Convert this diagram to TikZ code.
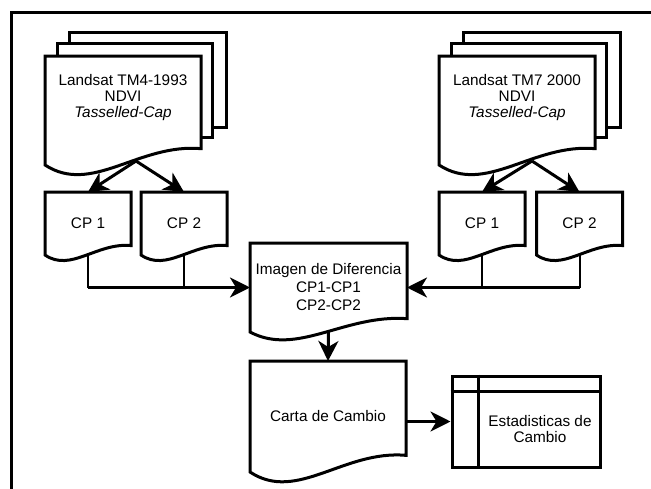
\documentclass[tikz,border=0pt]{standalone}
\usepackage{fontspec}
\setmainfont{Liberation Sans}
\usepackage{tikz}
\usetikzlibrary{arrows.meta, calc}

\tikzset{
    shapeline/.style={line width=2.25pt, line join=miter},
    link/.style={line width=1.5pt},
    arrow/.style={line width=2.25pt, -{Stealth[length=15pt, width=15pt, inset=4.5pt]}},
    doc/.style={inner sep=0pt, outer sep=0pt, align=center, font=\fontsize{11.5}{13.5}\selectfont},
    frame/.style={line width=2.25pt}
}

\newcommand{\docwave}[2][0]{%
    \draw[shapeline] let \p1=(#2.north west), \p2=($(#2.south east)+(0,#1)$),
        \n1={\x2-\x1}, \n2={\y1-\y2} in
        (\x1,\y2) -- (\x1,\y1) -- (\x2,\y1) -- (\x2,{\y1-0.85*\n2})
        .. controls ({\x1+0.6*\n1},{\y1-0.8*\n2}) and ({\x1+0.3*\n1},{\y1-1.28*\n2}) .. (\x1,\y2) -- cycle;}

\newcommand{\docstack}[1]{%
    \draw[shapeline] ($(#1.north west)+(12,0)$) -- ++(0,-13) -- ($(#1.north east)+(11,-13)$) -- ++(0,94) -- ++(-11,0);
    \draw[shapeline] ($(#1.north west)+(24,-13)$) -- ++(0,-11) -- ($(#1.north east)+(25,-24)$) -- ++(0,95) -- ++(-14,0);}

\begin{document}
\begin{tikzpicture}[x=0.75pt, y=-0.75pt]
    \useasboundingbox (0,0) rectangle (651,489);
    \draw[frame] (11,12) rectangle (700,540);

    \node[doc, minimum width=117pt, minimum height=63pt, font=\fontsize{11.5}{12}\selectfont] (tm4) at (123,98)
        {Landsat TM4-1993\\NDVI\\\textit{Tasselled-Cap}};
    \docwave[25]{tm4}
    \docstack{tm4}
    \node[doc, minimum width=117pt, minimum height=63pt, font=\fontsize{11.5}{12}\selectfont] (tm7) at (517,98)
        {Landsat TM7 2000\\NDVI\\\textit{Tasselled-Cap}};
    \docwave[25]{tm7}
    \docstack{tm7}

    \node[doc, minimum width=64.5pt, minimum height=47.25pt] (cp11) at (88,223.5) {CP 1};
    \docwave{cp11}
    \node[doc, minimum width=64.5pt, minimum height=47.25pt] (cp12) at (184,223.5) {CP 2};
    \docwave{cp12}
    \node[doc, minimum width=64.5pt, minimum height=47.25pt] (cp21) at (482,223.5) {CP 1};
    \docwave{cp21}
    \node[doc, minimum width=64.5pt, minimum height=47.25pt] (cp22) at (579.5,223.5) {CP 2};
    \docwave{cp22}

    \node[doc, minimum width=117.75pt, minimum height=66.75pt] (diff) at (328.5,287.5)
        {Imagen de Diferencia\\CP1-CP1\\CP2-CP2};
    \docwave{diff}
    \node[doc, minimum width=117pt, minimum height=83.25pt] (carta) at (328,416.5) {Carta de Cambio};
    \docwave{carta}

    \node[draw, shapeline, minimum width=111pt, minimum height=68.25pt] (est) at (526,421.5) {};
    \draw[shapeline] ($(est.north west)+(28,0)$) -- ($(est.south west)+(28,0)$);
    \draw[shapeline] ($(est.north west)+(0,17)$) -- ($(est.north east)+(0,17)$);
    \node[doc, font=\fontsize{11.5}{12}\selectfont] (est text) at (540,429.5) {Estadisticas de\\Cambio};

    \coordinate (tm4 foot) at ($(tm4.south)+(13,21)$);
    \coordinate (tm7 foot) at ($(tm7.south)+(15,21)$);
    \draw[arrow] (tm4 foot) -- (cp11.north);
    \draw[arrow] (tm4 foot) -- (cp12.north);
    \draw[arrow] (tm7 foot) -- (cp21.north);
    \draw[arrow] (tm7 foot) -- (cp22.north);

    \draw[link] (cp11.south) -- (cp11.south |- diff.west);
    \draw[link] (cp12.south) -- (cp12.south |- diff.west);
    \draw[arrow] (cp11.south |- diff.west) -- (diff.west);
    \draw[link] (cp21.south) -- (cp21.south |- diff.east);
    \draw[link] (cp22.south) -- (cp22.south |- diff.east);
    \draw[arrow] (cp22.south |- diff.east) -- (diff.east);

    \draw[arrow] (diff.south) -- (carta.north);
    \draw[arrow] (carta.east |- est.west) -- (est.west);
\end{tikzpicture}
\end{document}
